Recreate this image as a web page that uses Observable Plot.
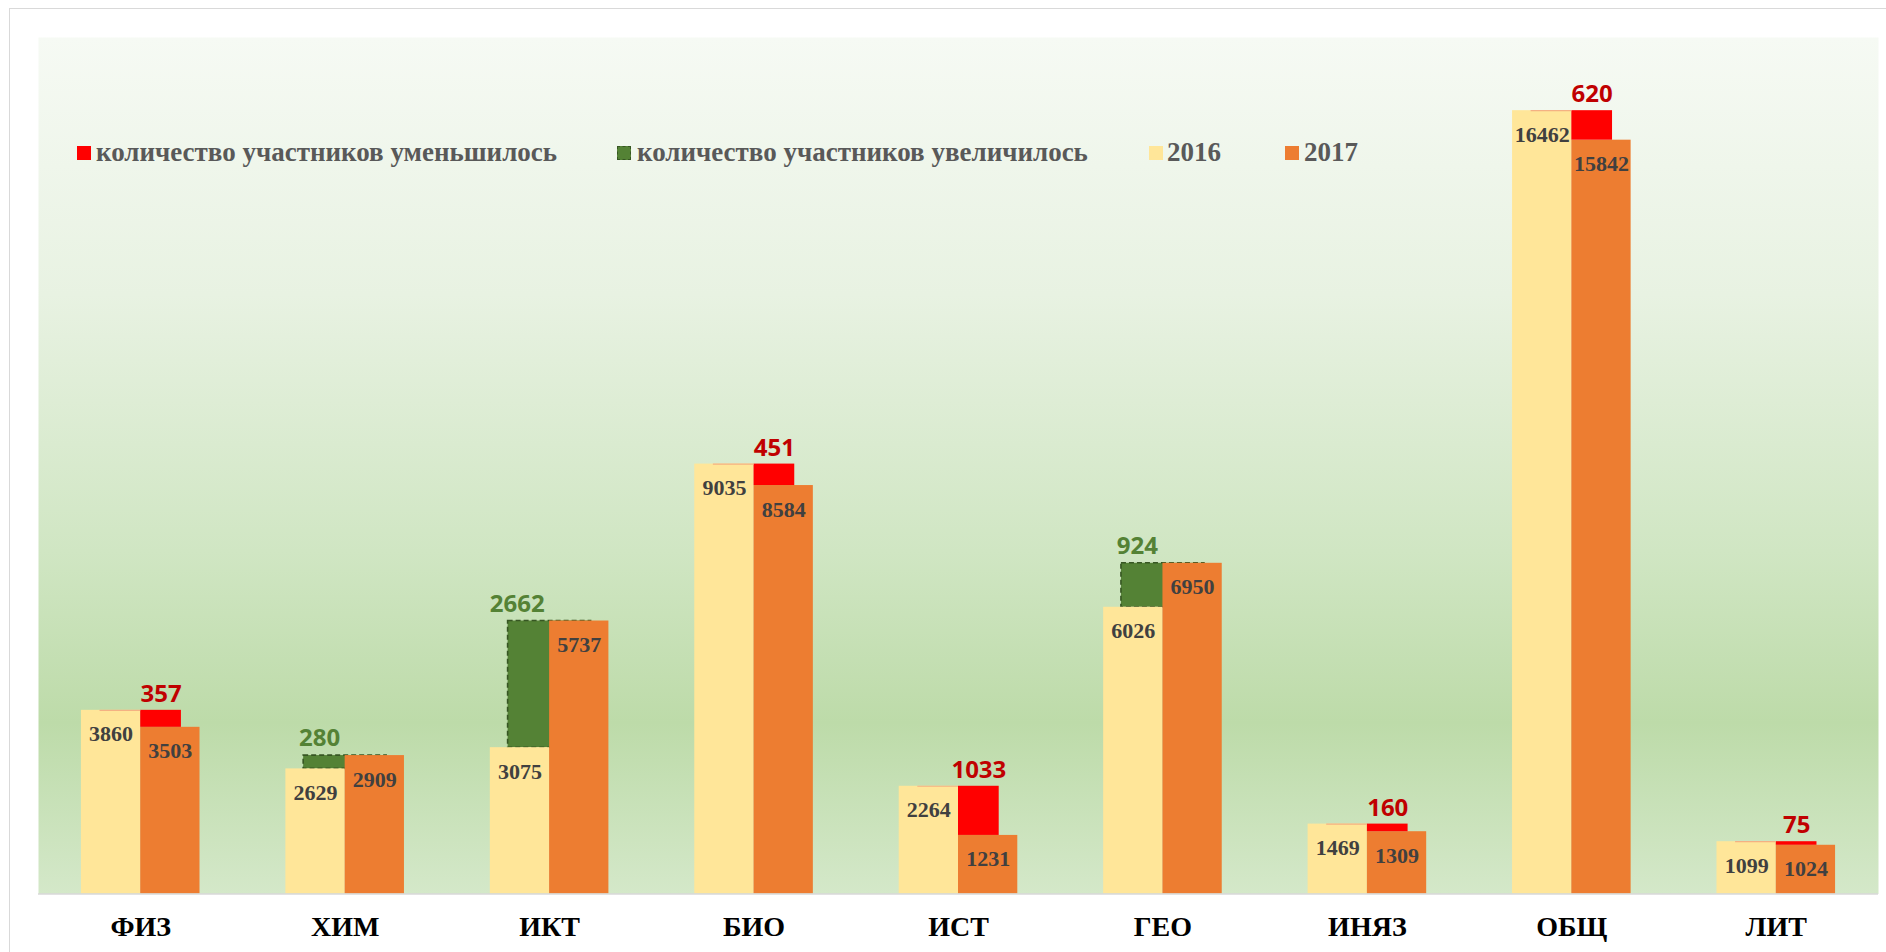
<!DOCTYPE html>
<html>
<head>
<meta charset="utf-8">
<script src="https://cdn.jsdelivr.net/npm/d3@7"></script>
<script src="https://cdn.jsdelivr.net/npm/@observablehq/plot@0.6"></script>
<style>
  html, body { margin: 0; padding: 0; background: #ffffff; }
  #wrap { position: relative; width: 1886px; height: 952px; overflow: hidden; }
  #border { position: absolute; left: 9px; top: 8px; width: 1900px; height: 1000px;
            border-left: 1.5px solid #d9d9d9; border-top: 1.5px solid #d9d9d9; }
  #chart { position: absolute; left: 0; top: 0; }
  .lg { position: absolute; top: 0; left: 0; }
  .sw { position: absolute; width: 14px; height: 14px; top: 146px; box-sizing: border-box; }
  .lt { position: absolute; top: 139px; font-family: "Liberation Serif", "Times New Roman", serif;
        font-weight: bold; font-size: 27px; line-height: 27px; color: #595959; white-space: nowrap; }
</style>
</head>
<body>
<div id="wrap">
  <div id="border"></div>
  <div id="chart"></div>
  <div class="lg" id="legend"></div>
</div>
<script>
const categories = ["ФИЗ", "ХИМ", "ИКТ", "БИО", "ИСТ", "ГЕО", "ИНЯЗ", "ОБЩ", "ЛИТ"];
const values2016 = [3860, 2629, 3075, 9035, 2264, 6026, 1469, 16462, 1099];
const values2017 = [3503, 2909, 5737, 8584, 1231, 6950, 1309, 15842, 1024];
const changes = [357, 280, 2662, 451, 1033, 924, 160, 620, 75];
const legendLabels = ["количество участников уменьшилось", "количество участников увеличилось", "2016", "2017"];

const rows = categories.map((c, i) => ({
  cat: c, v2016: values2016[i], v2017: values2017[i], change: changes[i],
  up: values2017[i] > values2016[i]
}));
const down = rows.filter(d => !d.up);
const up = rows.filter(d => d.up);

const W = 1886, H = 952;
const mL = 38, mR = 8, mT = 37, mB = 58.5;
const step = (W - mL - mR) / 9;
const bw = step * 0.58;       // band width (pair of bars)
const half = bw / 2;
const redW = 40.7, greenHalf = 41.5;

const C16 = "#ffe699", C17 = "#ed7d31", RED = "#ff0000", GREEN = "#548235";
const valFont = {fontFamily: "Liberation Serif, Times New Roman, serif", fontWeight: "bold", fontSize: 22, fill: "#404040"};
const chgFont = {fontFamily: "Open Sans, Noto Sans, sans-serif", fontWeight: "bold", fontSize: 24};

const plot = Plot.plot({
  width: W, height: H,
  marginLeft: mL, marginRight: mR, marginTop: mT, marginBottom: mB,
  style: {background: "transparent", overflow: "visible"},
  x: {domain: categories, paddingInner: 0.42, paddingOuter: 0.21, round: false, label: null,
      tickSize: 0, tickPadding: 22},
  y: {domain: [0, 18000], axis: null},
  marks: [
    Plot.frame({fill: "url(#bggrad)", stroke: "none"}),
    // increase (green, behind)
    Plot.barY(up, {x: "cat", y1: "v2016", y2: "v2017", fill: GREEN, stroke: "#375623",
      strokeWidth: 1.6, strokeDasharray: "5,3", insetLeft: half - greenHalf, insetRight: half - greenHalf}),
    Plot.barY(rows, {x: "cat", y: "v2016", fill: C16, insetRight: half}),
    Plot.barY(rows, {x: "cat", y: "v2017", fill: C17, insetLeft: half}),
    // decrease (red)
    Plot.barY(down, {x: "cat", y1: "v2017", y2: "v2016", fill: RED, insetLeft: half, insetRight: half - redW}),
    Plot.tickY(down, {x: "cat", y: "v2016", stroke: "#f4b183", strokeWidth: 1.2, insetLeft: half - redW, insetRight: half}),
    Plot.ruleY([0], {stroke: "#d9d9d9", strokeWidth: 1.5}),
    // value labels
    Plot.text(rows, {x: "cat", y: "v2016", text: d => String(d.v2016), dx: -half / 2, dy: 24, ...valFont}),
    Plot.text(rows, {x: "cat", y: "v2017", text: d => String(d.v2017), dx: half / 2, dy: 24, ...valFont}),
    Plot.text(down, {x: "cat", y: "v2016", text: d => String(d.change), dx: redW / 2, dy: -16, fill: "#c00000", ...chgFont}),
    Plot.text(up, {x: "cat", y: "v2017", text: d => String(d.change), dx: -5, dy: -17, textAnchor: "end", fill: GREEN, ...chgFont})
  ]
});

// gradient background definition
const ns = "http://www.w3.org/2000/svg";
const defs = document.createElementNS(ns, "defs");
const lg = document.createElementNS(ns, "linearGradient");
lg.setAttribute("id", "bggrad");
lg.setAttribute("x1", "0"); lg.setAttribute("y1", "0"); lg.setAttribute("x2", "0"); lg.setAttribute("y2", "1");
[["0", "#f6faf4"], ["0.3", "#e8f2e2"], ["0.6", "#d0e6c3"], ["0.8", "#bddba9"], ["1", "#d4e8c9"]].forEach(([o, c]) => {
  const s = document.createElementNS(ns, "stop");
  s.setAttribute("offset", o); s.setAttribute("stop-color", c);
  lg.appendChild(s);
});
defs.appendChild(lg);
plot.insertBefore(defs, plot.firstChild);

// x axis label style
plot.querySelectorAll("g[aria-label='x-axis tick label'] text, g[aria-label='x-axis tick label']").forEach(el => {
  el.setAttribute("font-family", "Liberation Serif, Times New Roman, serif");
  el.setAttribute("font-weight", "bold");
  el.setAttribute("font-size", "28");
  el.setAttribute("fill", "#000000");
});
document.getElementById("chart").appendChild(plot);

// legend
const legendColors = [RED, GREEN, C16, C17];
const swLeft = [77, 617, 1149, 1285];
const txLeft = [96, 637, 1167, 1304];
const legend = document.getElementById("legend");
legendLabels.forEach((t, i) => {
  const sw = document.createElement("div");
  sw.className = "sw";
  sw.style.left = swLeft[i] + "px";
  sw.style.background = legendColors[i];
  if (i === 1) sw.style.border = "1.5px dashed #375623";
  legend.appendChild(sw);
  const tx = document.createElement("div");
  tx.className = "lt";
  tx.style.left = txLeft[i] + "px";
  tx.textContent = t;
  legend.appendChild(tx);
});
</script>
</body>
</html>
